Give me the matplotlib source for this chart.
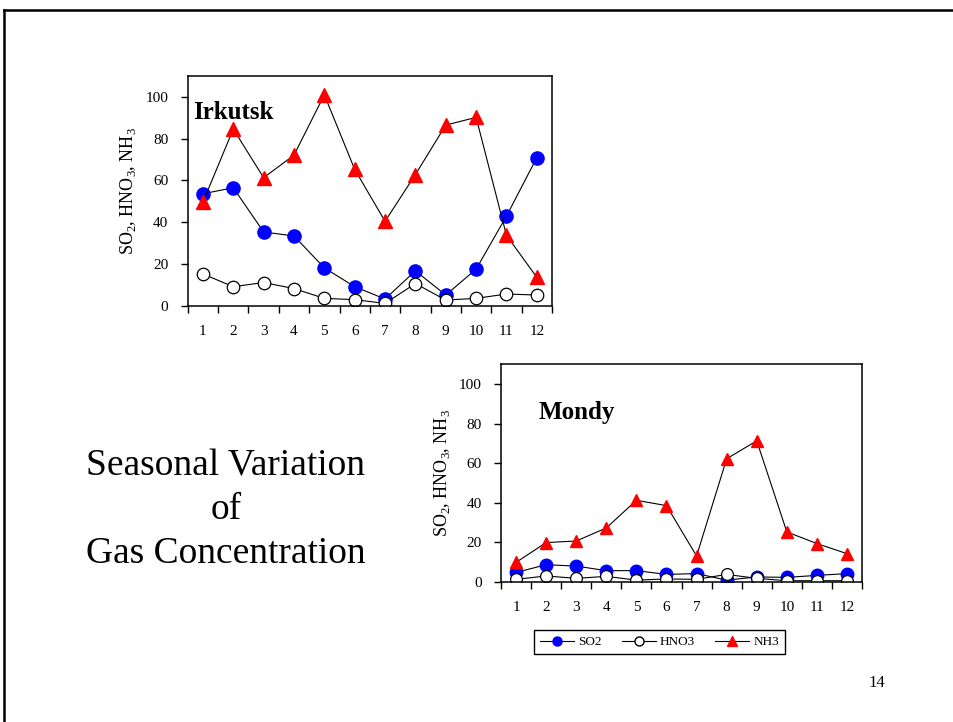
import matplotlib
matplotlib.use("Agg")
import matplotlib.pyplot as plt
from matplotlib.lines import Line2D
from matplotlib.ticker import MultipleLocator, FixedLocator, NullFormatter

plt.rcParams['font.family'] = ['Liberation Serif', 'DejaVu Serif']
plt.rcParams['mathtext.fontset'] = 'custom'
plt.rcParams['mathtext.rm'] = 'Liberation Serif'

months = list(range(1, 13))

# monthly mean concentrations, Irkutsk
irk_so2 = [53.6, 56.5, 35.3, 33.4, 18.1, 9.1, 3.2, 16.7, 5.1, 17.5, 42.9, 70.9]
irk_hno3 = [15.2, 9.1, 11.1, 8.2, 3.5, 2.9, 1.1, 10.6, 2.7, 3.5, 5.6, 5.1]
irk_nh3 = [49.6, 84.6, 61.3, 72.1, 101.0, 65.3, 40.4, 62.8, 86.5, 90.2, 33.7, 13.6]

# monthly mean concentrations, Mondy
mon_so2 = [4.7, 8.6, 7.9, 5.6, 5.6, 3.7, 4.1, 0.8, 2.4, 2.2, 3.2, 4.1]
mon_hno3 = [1.2, 2.9, 1.7, 2.7, 0.8, 1.4, 1.2, 3.7, 1.7, 0.5, 0.5, 0.5]
mon_nh3 = [9.8, 19.8, 20.6, 27.2, 41.2, 38.5, 13.0, 62.2, 71.3, 25.2, 19.3, 14.2]

series_names = ['SO2', 'HNO3', 'NH3']
ylabel = 'SO$_\\mathrm{2}$, HNO$_\\mathrm{3}$, NH$_\\mathrm{3}$'

fig = plt.figure(figsize=(9.54, 7.22), dpi=100)

# slide frame
fig.add_artist(Line2D([4.5 / 954, 4.5 / 954], [0, 1 - 10 / 722], color='black', lw=1.8))
fig.add_artist(Line2D([4.5 / 954, 1], [1 - 10 / 722, 1 - 10 / 722], color='black', lw=1.8))


def draw_station(ax, so2, hno3, nh3, name, name_xy, ms):
    ax.plot(months, so2, color='black', lw=0.8, marker='o', ms=ms,
            mfc='#0000ff', mec='#0000ff', label=series_names[0])
    ax.plot(months, hno3, color='black', lw=0.8, marker='o', ms=ms - 0.5,
            mfc='white', mec='black', mew=0.9, label=series_names[1])
    ax.plot(months, nh3, color='black', lw=0.8, marker='^', ms=ms,
            mfc='#ff0000', mec='#ff0000', label=series_names[2])
    ax.set_xlim(0.5, 12.5)
    ax.set_ylim(0, 110)
    ax.yaxis.set_major_locator(FixedLocator([0, 20, 40, 60, 80, 100]))
    ax.xaxis.set_major_locator(FixedLocator(months))
    ax.xaxis.set_minor_locator(MultipleLocator(1, offset=0.5))
    ax.xaxis.set_minor_formatter(NullFormatter())
    ax.tick_params(axis='x', which='major', length=0, pad=14, labelsize=11)
    ax.tick_params(axis='x', which='minor', length=5, width=1, direction='out')
    ax.tick_params(axis='y', length=5, width=1, direction='out', labelsize=11, pad=9)
    for s in ax.spines.values():
        s.set_linewidth(1.1)
    ax.set_ylabel(ylabel, fontsize=13, labelpad=5)
    ax.text(name_xy[0], name_xy[1], name, transform=ax.transAxes,
            fontsize=18, fontweight='bold', va='center', ha='left')


ax1 = fig.add_axes([0.1968, 0.5766, 0.3818, 0.3181])
draw_station(ax1, irk_so2, irk_hno3, irk_nh3, 'Irkutsk', (0.015, 0.84), 9.5)

ax2 = fig.add_axes([0.5252, 0.1943, 0.3784, 0.3011])
draw_station(ax2, mon_so2, mon_hno3, mon_nh3, 'Mondy', (0.105, 0.78), 9)

handles, labels = ax2.get_legend_handles_labels()
leg_handles = [Line2D([], [], color='black', lw=0.8, marker=h.get_marker(),
                      ms=6.5, mfc=h.get_markerfacecolor(), mec=h.get_markeredgecolor())
               for h in handles]
leg = fig.legend(leg_handles, labels, ncol=3, loc='center',
                 bbox_to_anchor=(659.5 / 954, 1 - 642 / 722), fontsize=9.5,
                 frameon=True, fancybox=False, edgecolor='black', framealpha=1,
                 handlelength=2.6, handletextpad=0.3, columnspacing=1.5,
                 borderpad=0.45)
leg.get_frame().set_linewidth(1.0)

fig.text(226 / 954, 1 - 510 / 722, 'Seasonal Variation\nof\nGas Concentration',
         ha='center', va='center', fontsize=27, linespacing=1.36)
fig.text(877 / 954, 1 - 683 / 722, '14', ha='center', va='center', fontsize=12)

fig.savefig('out.png', dpi=100)
